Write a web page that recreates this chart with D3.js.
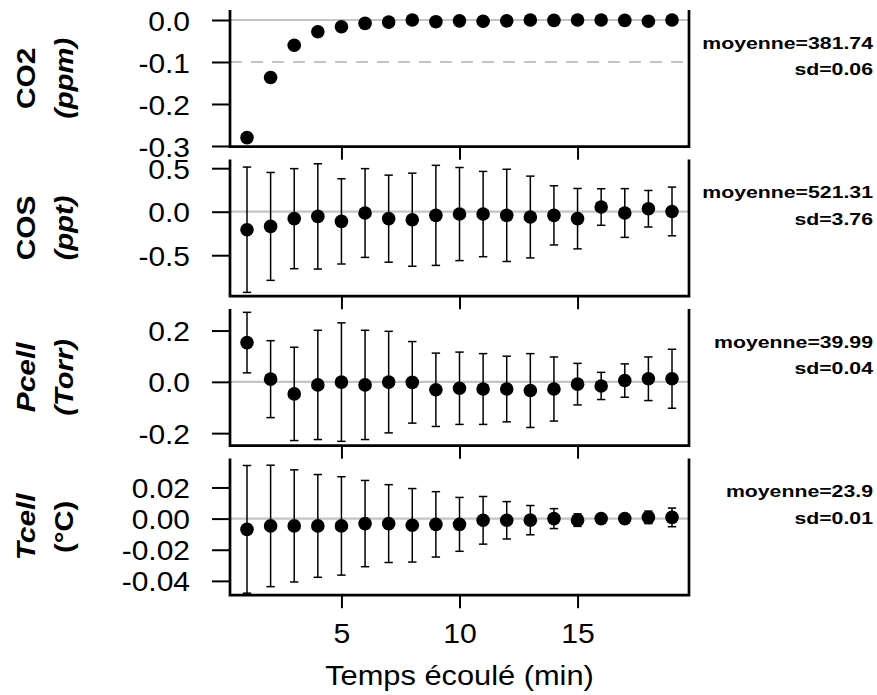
<!DOCTYPE html>
<html>
<head>
<meta charset="utf-8">
<script src="https://cdn.jsdelivr.net/npm/d3@7"></script>
<style>
  html, body { margin: 0; padding: 0; background: #fff; }
  svg { display: block; font-family: "Liberation Sans", Arial, sans-serif; }
</style>
</head>
<body>
<svg id="chart" width="877" height="695"></svg>
<script>
// ---------------- data ----------------
const minutes = [1,2,3,4,5,6,7,8,9,10,11,12,13,14,15,16,17,18,19];

const co2Mean = [-0.280,-0.137,-0.060,-0.028,-0.016,-0.008,-0.005,0.000,-0.004,-0.002,-0.003,-0.002,0.000,-0.001,0.000,0.000,-0.001,-0.003,0.000];
const co2Err  = null;

const cosMean = [-0.207,-0.169,-0.080,-0.054,-0.111,-0.015,-0.080,-0.092,-0.042,-0.027,-0.027,-0.042,-0.061,-0.042,-0.080,0.054,-0.015,0.034,0.003];
const cosErr  = [0.72,0.62,0.575,0.605,0.49,0.51,0.50,0.535,0.575,0.535,0.49,0.53,0.47,0.34,0.347,0.21,0.28,0.21,0.28];

const pMean = [0.153,0.0105,-0.047,-0.012,-0.001,-0.012,-0.001,-0.002,-0.031,-0.025,-0.028,-0.028,-0.034,-0.028,-0.009,-0.016,0.005,0.012,0.012];
const pErr  = [0.118,0.15,0.182,0.213,0.231,0.213,0.198,0.159,0.143,0.141,0.138,0.128,0.144,0.125,0.081,0.053,0.065,0.085,0.115];

const tMean = [-0.0069,-0.0047,-0.0047,-0.0047,-0.0047,-0.0032,-0.0032,-0.0043,-0.0037,-0.0037,-0.0011,-0.0011,-0.001,0.0,-0.001,0.0,0.0,0.0008,0.0008];
const tErr  = [0.041,0.039,0.036,0.033,0.0316,0.0277,0.025,0.0236,0.021,0.0173,0.0153,0.012,0.0094,0.0064,0.004,0.002,0.002,0.004,0.006];

const yLimits = [[-0.3017, 0.0238], [-0.971, 0.600], [-0.249, 0.284], [-0.0492, 0.0386]];
const yTicks  = [[0.0,-0.1,-0.2,-0.3], [0.5,0.0,-0.5], [0.2,0.0,-0.2], [0.02,0.00,-0.02,-0.04]];
const yTickFormats = [".1f", ".1f", ".1f", ".2f"];
const dashedRefs = [[-0.1], [], [], []];
const xTicks = [5, 10, 15];
const xLimits = [0.28, 19.72];

const varNames  = ["CO2", "COS", "Pcell", "Tcell"];
const varUnits  = ["(ppm)", "(ppt)", "(Torr)", "(°C)"];
const nameItalic = [false, false, true, true];
const unitItalic = [true, true, true, false];
const meanTexts = ["moyenne=381.74", "moyenne=521.31", "moyenne=39.99", "moyenne=23.9"];
const sdTexts   = ["sd=0.06", "sd=3.76", "sd=0.04", "sd=0.01"];
const xTitle = "Temps écoulé (min)";

const means = [co2Mean, cosMean, pMean, tMean];
const errs  = [co2Err, cosErr, pErr, tErr];

// ---------------- layout ----------------
const svg = d3.select("#chart");
const left = 230, right = 689;
const panelTop0 = 10, panelStep = 149.5, panelH = 136.7;
const locale = d3.formatLocale({decimal: ".", thousands: ",", grouping: [3], currency: ["", ""], minus: "-"});

const x = d3.scaleLinear().domain(xLimits).range([left, right]);

function widen(sel, factor) {
  sel.each(function() {
    const w = this.getComputedTextLength();
    this.setAttribute("textLength", (w * factor).toFixed(1));
    this.setAttribute("lengthAdjust", "spacingAndGlyphs");
  });
}

for (let i = 0; i < 4; i++) {
  const top = panelTop0 + i * panelStep;
  const bottom = top + panelH;
  const y = d3.scaleLinear().domain(yLimits[i]).range([bottom, top]);
  const g = svg.append("g");

  // zero reference line
  g.append("line")
    .attr("x1", left).attr("x2", right)
    .attr("y1", y(0)).attr("y2", y(0))
    .attr("stroke", "#c4c4c4").attr("stroke-width", 2.2);

  // dashed reference lines
  dashedRefs[i].forEach(v => {
    g.append("line")
      .attr("x1", left).attr("x2", right)
      .attr("y1", y(v)).attr("y2", y(v))
      .attr("stroke", "#c4c4c4").attr("stroke-width", 2.2)
      .attr("stroke-dasharray", "12,9");
  });

  // error bars
  const m = means[i], e = errs[i];
  if (e) {
    const eb = g.append("g").attr("stroke", "#000").attr("stroke-width", 1.5).attr("fill", "none");
    minutes.forEach((t, k) => {
      const cx = x(t), y1 = y(m[k] + e[k]), y2 = y(m[k] - e[k]);
      eb.append("line").attr("x1", cx).attr("x2", cx).attr("y1", y1).attr("y2", y2);
      eb.append("line").attr("x1", cx - 4.2).attr("x2", cx + 4.2).attr("y1", y1).attr("y2", y1);
      eb.append("line").attr("x1", cx - 4.2).attr("x2", cx + 4.2).attr("y1", y2).attr("y2", y2);
    });
  }

  // points
  g.append("g").selectAll("circle").data(minutes).join("circle")
    .attr("cx", d => x(d))
    .attr("cy", (d, k) => y(m[k]))
    .attr("r", 6.8)
    .attr("fill", "#000");

  // y axis ticks
  const fmt = locale.format(yTickFormats[i]);
  const yAxis = d3.axisLeft(y).tickValues(yTicks[i]).tickSize(18).tickPadding(22).tickFormat(fmt);
  const ya = g.append("g").attr("transform", `translate(${left},0)`).call(yAxis);
  ya.select(".domain").remove();
  ya.selectAll(".tick line").attr("stroke", "#000").attr("stroke-width", 2);
  ya.selectAll(".tick text")
    .attr("font-size", 28).attr("fill", "#000")
    .attr("font-family", "'Liberation Sans', Arial, sans-serif")
    .attr("dy", "0.36em");
  widen(ya.selectAll(".tick text"), 1.07);

  // x axis ticks
  const xAxis = d3.axisBottom(x).tickValues(xTicks).tickSize(13).tickPadding(15)
    .tickFormat(i === 3 ? d3.format("d") : () => "");
  const xa = g.append("g").attr("transform", `translate(0,${bottom})`).call(xAxis);
  xa.select(".domain").remove();
  xa.selectAll(".tick line").attr("stroke", "#000").attr("stroke-width", 2);
  xa.selectAll(".tick text")
    .attr("font-size", 28).attr("fill", "#000")
    .attr("font-family", "'Liberation Sans', Arial, sans-serif")
    .attr("dy", "0.71em");
  if (i === 3) widen(xa.selectAll(".tick text"), 1.08);

  // box (left, bottom, right)
  g.append("path")
    .attr("d", `M${left},${top}V${bottom}H${right}V${top}`)
    .attr("fill", "none").attr("stroke", "#000").attr("stroke-width", 2.7)
    .attr("stroke-linejoin", "miter");

  // y labels (two lines, rotated)
  const mid = (top + bottom) / 2;
  const l1 = svg.append("text")
    .attr("transform", `translate(35,${mid}) rotate(-90)`)
    .attr("text-anchor", "middle")
    .attr("font-size", 26).attr("font-weight", "bold")
    .attr("font-style", nameItalic[i] ? "italic" : "normal")
    .text(varNames[i]);
  widen(l1, 1.15);
  const l2 = svg.append("text")
    .attr("transform", `translate(73,${mid}) rotate(-90)`)
    .attr("text-anchor", "middle")
    .attr("font-size", 26).attr("font-weight", "bold")
    .attr("font-style", unitItalic[i] ? "italic" : "normal")
    .text(varUnits[i]);
  widen(l2, 1.12);

  // mean / sd annotations
  const a1 = svg.append("text")
    .attr("x", 873).attr("y", top + 38.5)
    .attr("text-anchor", "end").attr("font-size", 17).attr("font-weight", "bold")
    .text(meanTexts[i]);
  widen(a1, 1.25);
  const a2 = svg.append("text")
    .attr("x", 873).attr("y", top + 65)
    .attr("text-anchor", "end").attr("font-size", 17).attr("font-weight", "bold")
    .text(sdTexts[i]);
  widen(a2, 1.25);
}

// x title
const xt = svg.append("text")
  .attr("x", (left + right) / 2).attr("y", 685)
  .attr("text-anchor", "middle").attr("font-size", 28)
  .text(xTitle);
widen(xt, 1.1);
</script>
</body>
</html>
